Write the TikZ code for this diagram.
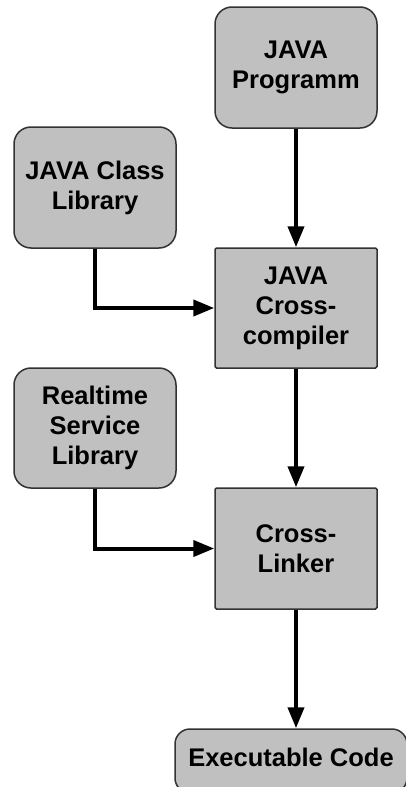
\documentclass[tikz,border=0pt]{standalone}
\usepackage{fontspec}
\setmainfont{Liberation Sans}
\usetikzlibrary{arrows.meta}
\definecolor{boxfill}{RGB}{192,192,192}
\definecolor{boxline}{RGB}{50,50,50}
\begin{document}
\begin{tikzpicture}[x=1pt,y=-1pt,
  base/.style={fill=boxfill,draw=boxline,line width=1.5pt,align=center,
    font=\fontsize{25.5}{30}\selectfont\bfseries,inner sep=0pt,
    minimum width=162pt},
  roundbox/.style={base,rounded corners=17pt},
  rectbox/.style={base,rounded corners=1.5pt},
  flow/.style={line width=4pt,-{Triangle[length=21pt,width=16pt]}}]
\clip (0,0) rectangle (406,787);
\fill[white] (0,0) rectangle (406,787);
\node[roundbox,minimum height=121pt] (prog) at (296,67.5) {JAVA\\Programm};
\node[roundbox,minimum height=121pt] (cls) at (95,187.5) {JAVA Class\\Library};
\node[rectbox,minimum height=120pt] (comp) at (296,308) {JAVA\\Cross-\\compiler};
\node[roundbox,minimum height=120pt] (rts) at (95,428) {Realtime\\Service\\Library};
\node[rectbox,minimum height=121pt] (link) at (296,548.5) {Cross-\\Linker};
\node[roundbox,rounded corners=15pt,minimum width=232pt,minimum height=64pt,text depth=8pt] (exe) at (291,761) {Executable Code};
\draw[flow] (prog.south) -- (comp.north);
\draw[flow] (cls.south) |- (comp.west);
\draw[flow] (comp.south) -- (link.north);
\draw[flow] (rts.south) |- (link.west);
\draw[flow] (link.south) -- (link.south |- exe.north);
\end{tikzpicture}
\end{document}
